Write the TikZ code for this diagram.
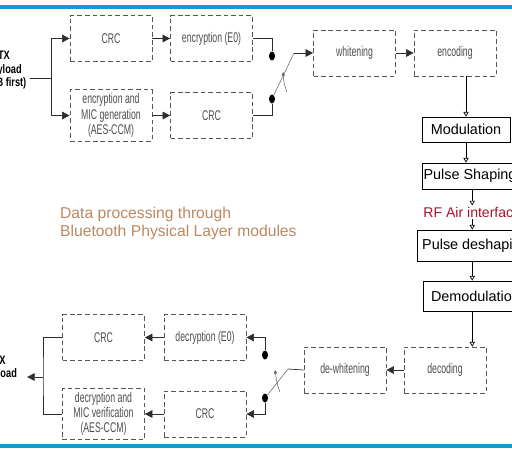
\documentclass[tikz,border=0pt]{standalone}
\usepackage{fontspec}
\setmainfont{Liberation Sans}
\newfontfamily\narrowfont[FakeStretch=0.62]{Liberation Sans}
\newfontfamily\labelfont[FakeStretch=0.75]{Liberation Sans}
\usetikzlibrary{arrows.meta,shapes.geometric,calc}
\definecolor{bandblue}{RGB}{24,152,212}
\definecolor{rfred}{RGB}{165,20,45}
\definecolor{notebrown}{RGB}{190,135,95}
\definecolor{dashgray}{RGB}{85,85,85}
\definecolor{wiregray}{RGB}{45,45,45}

\begin{document}
\begin{tikzpicture}[x=0.3mm,y=-0.3mm,
  blk/.style={draw=dashgray,dash pattern=on 4pt off 2.5pt,line width=0.6pt,
    minimum width=24.6mm,minimum height=13.8mm,align=center,text=wiregray!85,
    font=\narrowfont\fontsize{12}{13}\selectfont},
  phy/.style={draw,line width=0.7pt,font=\fontsize{12.3}{14}\selectfont},
  txt/.style={align=center,inner xsep=3pt,font=\labelfont\bfseries\fontsize{10.5}{11.5}\selectfont},
  dot/.style={ellipse,fill=black,inner sep=0pt,minimum width=1.8mm,minimum height=2.7mm},
  wire/.style={draw=wiregray,line width=0.6pt},
  fwd/.style={wire,-{Triangle[length=6.5pt,width=6.5pt]}},
  tip/.style={line width=0.6pt,-{Triangle[open,length=4pt,width=4.5pt]}},
  lever/.style={draw=dashgray,line width=0.4pt},
  band/.style={draw=bandblue,line width=2.6pt}]
\useasboundingbox (0,0) rectangle (512,455);
\clip (0,0) rectangle (512,455);
% Blue bands
\draw[band] (0,7) -- (512,7);
\draw[band] (0,446) -- (512,446);
% Transmit side
\node[txt] (tx) at (4,70.5) {TX\\Payload\\(LSB first)};
\coordinate (txsplit) at (51,78);
\node[blk] (crc1) at (111,38.5) {CRC};
\node[blk] (e0) at (211.5,38.5) {encryption (E0)};
\node[blk] (micgen) at (111,115.5) {encryption and\\MIC generation\\(AES-CCM)};
\node[blk] (crc2) at (211.5,115.5) {CRC};
\node[dot] (swa) at (272,56) {};
\node[dot] (swb) at (272,99) {};
\coordinate (levera) at (294,53);
\node[blk] (whit) at (354.5,53) {whitening};
\node[blk] (enc) at (455,53) {encoding};
\draw[wire] (tx.east |- txsplit) -- (txsplit);
\draw[fwd] (txsplit) |- (crc1.west);
\draw[fwd] (txsplit) |- (micgen.west);
\draw[fwd] (crc1) -- (e0);
\draw[fwd] (micgen) -- (crc2);
\draw[wire] (e0.east) -| (swa.north);
\draw[wire] (crc2.east) -| (swb.south);
\draw[lever] (swb) -- (levera);
\draw[lever,-{Stealth[length=3.5pt,width=3pt]}] (287,92) .. controls (284,84) .. (283,72);
\draw[fwd] (levera) -- (whit.west);
\draw[fwd] (whit) -- (enc);
% Physical layer chain
\node[phy,minimum width=26.4mm,minimum height=7.5mm] (mod) at (466,129.5) {Modulation};
\node[phy,anchor=west,inner xsep=1pt,minimum height=7.8mm] (pulse) at (422,176) {Pulse Shaping};
\node[anchor=west,text=rfred,inner sep=1pt,font=\fontsize{12}{14}\selectfont] (rf) at (422,212) {RF Air interface};
\node[phy,anchor=west,inner xsep=4.5pt,minimum height=9.3mm] (deshape) at (416.5,245.5) {Pulse deshaping};
\node[phy,anchor=west,inner xsep=6.5pt,minimum height=9mm] (demod) at (423,296) {Demodulation};
\draw[tip] (enc.south -| mod.north) -- (mod.north);
\draw[tip] (mod.south) -- (mod.south |- pulse.north);
\draw[tip] (pulse.south -| rf.north) -- (rf.north);
\draw[tip] (rf.south) -- (rf.south |- deshape.north);
\draw[tip] (deshape.south -| rf.south) -- (demod.north -| rf.south);
% Receive side
\node[blk] (dec) at (445,370) {decoding};
\node[blk] (dewh) at (345,370) {de-whitening};
\coordinate (leverb) at (288,369);
\node[dot] (swc) at (265,355) {};
\node[dot] (swd) at (265,398) {};
\node[blk] (dece0) at (205,337.5) {decryption (E0)};
\node[blk] (crc3) at (103.5,337.5) {CRC};
\node[blk] (crc4) at (205,414) {CRC};
\node[blk] (micver) at (103.5,414) {decryption and\\MIC verification\\(AES-CCM)};
\coordinate (rxjoin) at (43,377);
\node[txt,inner xsep=8.5pt] (rx) at (-0.8,368) {RX\\Payload};
\draw[tip] (demod.south -| rf.south) -- (dec.north -| rf.south);
\draw[fwd] (dec) -- (dewh);
\draw[wire] (dewh.west) -- (leverb);
\draw[lever] (leverb) -- (swd);
\draw[lever,-{Stealth[length=3.5pt,width=3pt]}] (280,392) .. controls (277,384) .. (275,370);
\draw[fwd] (swc.north) |- (dece0.east);
\draw[fwd] (swd.south) |- (crc4.east);
\draw[fwd] (dece0) -- (crc3);
\draw[fwd] (crc4) -- (micver);
\draw[wire] (crc3.west) -| (rxjoin) |- (micver.west);
\draw[fwd] (rxjoin) -- (rxjoin -| rx.east);
% Caption
\node[anchor=west,align=left,text=notebrown,font=\fontsize{13.4}{15.3}\selectfont] (note) at (56,223)
  {Data processing through\\Bluetooth Physical Layer modules};
\end{tikzpicture}
\end{document}
